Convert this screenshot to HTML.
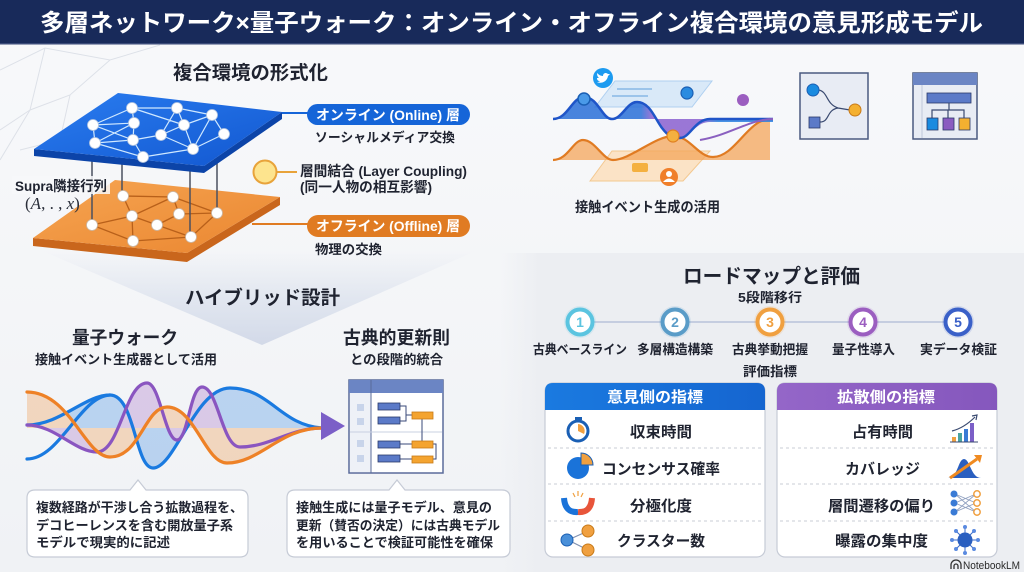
<!DOCTYPE html>
<html><head><meta charset="utf-8"><style>
html,body{margin:0;padding:0;background:#f6f7f9;}
svg{display:block;}
text{font-family:"Liberation Sans","Noto Sans CJK JP",sans-serif;font-weight:700;}
</style></head><body>
<svg width="1024" height="572" viewBox="0 0 1024 572" xmlns="http://www.w3.org/2000/svg">
<defs>
<linearGradient id="bgL" x1="0" y1="0" x2="0" y2="1"><stop offset="0" stop-color="#f8f9fb"/><stop offset="1" stop-color="#f0f2f5"/></linearGradient>
<linearGradient id="bandG" x1="500" y1="0" x2="540" y2="0" gradientUnits="userSpaceOnUse"><stop offset="0" stop-color="#eceef2" stop-opacity="0"/><stop offset="1" stop-color="#eceef2"/></linearGradient>
<linearGradient id="chev" x1="0" y1="0" x2="0" y2="1"><stop offset="0" stop-color="#dfe4ee" stop-opacity="0"/><stop offset="0.5" stop-color="#dde3ee" stop-opacity="0.8"/><stop offset="1" stop-color="#d2d9e8"/></linearGradient>
<linearGradient id="blueTop" x1="0" y1="0" x2="1" y2="1"><stop offset="0" stop-color="#2a7df0"/><stop offset="1" stop-color="#1257d0"/></linearGradient>
<linearGradient id="orTop" x1="0" y1="0" x2="1" y2="1"><stop offset="0" stop-color="#f6a552"/><stop offset="1" stop-color="#ea8630"/></linearGradient>
<linearGradient id="hdrB" x1="0" y1="0" x2="1" y2="0"><stop offset="0" stop-color="#1a7ae0"/><stop offset="1" stop-color="#1565d0"/></linearGradient>
<linearGradient id="hdrP" x1="0" y1="0" x2="1" y2="0"><stop offset="0" stop-color="#9466c8"/><stop offset="1" stop-color="#8557bd"/></linearGradient>
<linearGradient id="wv" x1="0" y1="0" x2="1" y2="0"><stop offset="0" stop-color="#2a6fd8"/><stop offset="0.4" stop-color="#2a6fd8"/><stop offset="0.45" stop-color="#8a60d0"/><stop offset="0.68" stop-color="#8a60d0"/><stop offset="0.75" stop-color="#2a80e0"/><stop offset="1" stop-color="#2a80e0"/></linearGradient>
</defs>

<!-- background -->
<rect x="0" y="0" width="1024" height="572" fill="url(#bgL)"/>
<rect x="500" y="253" width="524" height="319" fill="url(#bandG)"/>
<g stroke="#dde1e8" stroke-width="1" fill="none">
<path d="M0,70 L45,48 L110,60 L160,45 M45,48 L30,110 L0,130 M30,110 L70,95 L110,60 M0,160 L30,110 M70,95 L60,140 L20,150"/>
</g>
<polygon points="40,250 262,345 478,250" fill="url(#chev)"/>

<!-- header -->
<rect x="0" y="0" width="1024" height="44" fill="#182a5a"/>
<rect x="0" y="43" width="1024" height="1.5" fill="#3a4a78"/>
<text x="40" y="31" font-size="24" fill="#ffffff" textLength="943" lengthAdjust="spacingAndGlyphs">多層ネットワーク×量子ウォーク：オンライン・オフライン複合環境の意見形成モデル</text>

<!-- section 1 -->
<text x="173" y="79" font-size="19" fill="#1f2330" textLength="155" lengthAdjust="spacingAndGlyphs">複合環境の形式化</text>

<!-- orange plane -->
<polygon points="33,238 33,246 187,262 280,205 280,197 187,253" fill="#c9661c"/>
<polygon points="33,238 115,180 280,197 187,253" fill="url(#orTop)"/>
<g stroke="#b8601a" stroke-width="1.3" fill="none">
<path d="M123,196L173,197 M123,196L132,216 M173,197L179,214 M173,197L217,213 M132,216L92,225 M132,216L157,225 M132,216L133,241 M92,225L133,241 M157,225L179,214 M157,225L191,237 M133,241L191,237 M179,214L217,213 M191,237L217,213 M173,197L132,216"/>
</g>
<!-- vertical coupling lines -->
<g stroke="#4a5060" stroke-width="1.5">
<line x1="92" y1="160" x2="92" y2="225"/>
<line x1="122" y1="160" x2="122" y2="196"/>
<line x1="190" y1="165" x2="190" y2="237"/>
<line x1="217" y1="160" x2="217" y2="213"/>
</g>
<g fill="#ffffff" stroke="#c9b8a8" stroke-width="0.8">
<circle cx="123" cy="196" r="5.5"/><circle cx="173" cy="197" r="5.5"/><circle cx="132" cy="216" r="5.5"/><circle cx="179" cy="214" r="5.5"/><circle cx="217" cy="213" r="5.5"/><circle cx="92" cy="225" r="5.5"/><circle cx="157" cy="225" r="5.5"/><circle cx="133" cy="241" r="5.5"/><circle cx="191" cy="237" r="5.5"/>
</g>

<!-- blue plane -->
<polygon points="34,149 34,156 204,173 282,119 282,112 204,166" fill="#0c44a8"/>
<polygon points="34,149 118,93 282,112 204,166" fill="url(#blueTop)"/>
<g stroke="#cfe8ff" stroke-width="1.2" fill="none">
<path d="M132,108L177,108 M177,108L212,115 M132,108L93,125 M132,108L134,123 M132,108L184,125 M177,108L184,125 M212,115L184,125 M212,115L224,134 M212,115L193,149 M93,125L95,143 M93,125L134,123 M93,125L133,140 M95,143L133,140 M95,143L134,123 M134,123L133,140 M133,140L161,135 M161,135L184,125 M184,125L193,149 M224,134L193,149 M161,135L193,149 M133,140L143,157 M143,157L193,149 M95,143L143,157 M177,108L161,135"/>
</g>
<g fill="#ffffff" stroke="#b8c8e0" stroke-width="0.8">
<circle cx="132" cy="108" r="5.5"/><circle cx="177" cy="108" r="5.5"/><circle cx="212" cy="115" r="5.5"/><circle cx="93" cy="125" r="5.5"/><circle cx="134" cy="123" r="5.5"/><circle cx="184" cy="125" r="5.5"/><circle cx="224" cy="134" r="5.5"/><circle cx="95" cy="143" r="5.5"/><circle cx="133" cy="140" r="5.5"/><circle cx="161" cy="135" r="5.5"/><circle cx="193" cy="149" r="5.5"/><circle cx="143" cy="157" r="5.5"/>
</g>

<!-- supra labels -->
<rect x="12" y="176" width="98" height="18" fill="#f7f8fa" opacity="0.85"/>
<text x="15" y="191" font-size="14" fill="#1f2330" textLength="92" lengthAdjust="spacingAndGlyphs">Supra隣接行列</text>
<text x="25" y="209" font-size="17" fill="#2a2e3a" style="font-family:'Liberation Serif',serif;font-weight:400">(<tspan font-style="italic">A</tspan>, . , <tspan font-style="italic">x</tspan>)</text>

<!-- online label -->
<line x1="282" y1="113" x2="308" y2="113" stroke="#1565d8" stroke-width="2"/>
<rect x="307" y="104" width="163" height="21" rx="10.5" fill="#1565d8"/>
<text x="316" y="120" font-size="14" fill="#ffffff" textLength="144" lengthAdjust="spacingAndGlyphs">オンライン (Online) 層</text>
<text x="315" y="142" font-size="13" fill="#1f2330" textLength="140" lengthAdjust="spacingAndGlyphs">ソーシャルメディア交換</text>

<!-- coupling -->
<line x1="277" y1="172" x2="297" y2="172" stroke="#e8a33a" stroke-width="2"/>
<circle cx="265" cy="172" r="11.5" fill="#fde48e" stroke="#e8a33a" stroke-width="2"/>
<text x="300" y="176" font-size="14" fill="#1f2330" textLength="167" lengthAdjust="spacingAndGlyphs">層間結合 (Layer Coupling)</text>
<text x="300" y="192" font-size="14" fill="#1f2330" textLength="132" lengthAdjust="spacingAndGlyphs">(同一人物の相互影響)</text>

<!-- offline label -->
<line x1="252" y1="224" x2="308" y2="224" stroke="#e07b22" stroke-width="2"/>
<rect x="307" y="215" width="163" height="22" rx="11" fill="#e07b22"/>
<text x="316" y="231" font-size="14" fill="#ffffff" textLength="144" lengthAdjust="spacingAndGlyphs">オフライン (Offline) 層</text>
<text x="315" y="254" font-size="13" fill="#1f2330" textLength="67" lengthAdjust="spacingAndGlyphs">物理の交換</text>

<!-- hybrid -->
<text x="185" y="304" font-size="19" fill="#1f2330" textLength="155" lengthAdjust="spacingAndGlyphs">ハイブリッド設計</text>
<text x="72" y="344" font-size="18" fill="#1f2330" textLength="106" lengthAdjust="spacingAndGlyphs">量子ウォーク</text>
<text x="35" y="364" font-size="13" fill="#1f2330" textLength="182" lengthAdjust="spacingAndGlyphs">接触イベント生成器として活用</text>
<text x="343" y="344" font-size="18" fill="#1f2330" textLength="107" lengthAdjust="spacingAndGlyphs">古典的更新則</text>
<text x="350" y="364" font-size="13" fill="#1f2330" textLength="93" lengthAdjust="spacingAndGlyphs">との段階的統合</text>

<!-- quantum waves -->
<g opacity="0.28">
<path d="M27,428 L27,425 C60,425 85,395 110,395 C135,395 135,468 153,468 C175,468 195,388 230,388 C270,388 280,425 322,428 Z" fill="#2a80e0"/>
<path d="M27,428 L27,425 C55,425 75,452 97,452 C120,452 125,383 147,383 C160,383 165,440 177,440 C188,440 190,387 202,387 C218,387 222,447 240,447 C270,447 290,428 322,428 Z" fill="#9b5ec0"/>
<path d="M27,428 L27,392 C70,392 85,457 110,457 C140,457 145,407 167,407 C195,407 205,463 227,463 C260,463 280,428 322,428 Z" fill="#f08a30"/>
</g>
<g fill="none" stroke-width="3.2" stroke-linecap="round">
<path d="M27,459 C60,459 80,396 110,395" stroke="#1a7ae0"/>
<path d="M27,425 C60,425 85,395 110,395 C135,395 135,468 153,468 C175,468 195,388 230,388 C270,388 280,425 322,428" stroke="#1a7ae0"/>
<path d="M27,425 C55,425 75,452 97,452 C120,452 125,383 147,383 C160,383 165,440 177,440 C188,440 190,387 202,387 C218,387 222,447 240,447 C270,447 290,428 322,428" stroke="#8a55c0"/>
<path d="M27,392 C70,392 85,457 110,457 C140,457 145,407 167,407 C195,407 205,463 227,463 C260,463 280,428 322,428" stroke="#ee8126"/>
</g>
<polygon points="321,412 345,426 321,440" fill="#7b5fc7"/>

<!-- classical diagram -->
<rect x="349" y="380" width="94" height="93" fill="#ffffff" stroke="#5a6b9a" stroke-width="1.5"/>
<rect x="349" y="380" width="94" height="13" fill="#6b85c4"/>
<rect x="350" y="393" width="21" height="79" fill="#eef1f7"/>
<line x1="371" y1="380" x2="371" y2="473" stroke="#5a6b9a" stroke-width="1"/>
<line x1="350" y1="432" x2="442" y2="432" stroke="#c8d0e2" stroke-width="1"/>
<g fill="#c8d4ea"><rect x="357" y="404" width="7" height="7"/><rect x="357" y="418" width="7" height="7"/><rect x="357" y="440" width="7" height="7"/><rect x="357" y="455" width="7" height="7"/></g>
<g stroke="#3a4a7a" stroke-width="1" fill="none"><path d="M400,406 H406 V421 H400 M406,415 H412 M422,418 V444 H400 M433,444 H436 V459 H433 M412,459 H400"/></g>
<g fill="#5b7ac8" stroke="#2a3a6a" stroke-width="0.8"><rect x="378" y="403" width="22" height="7"/><rect x="378" y="417" width="22" height="7"/><rect x="378" y="441" width="22" height="7"/><rect x="378" y="455" width="22" height="7"/></g>
<g fill="#f4a430" stroke="#c87a18" stroke-width="0.8"><rect x="412" y="412" width="21" height="7"/><rect x="412" y="441" width="21" height="7"/><rect x="412" y="456" width="21" height="7"/></g>

<!-- callouts -->
<path d="M35,490 H130 L138,480 L146,490 H240 Q248,490 248,498 V549 Q248,557 240,557 H35 Q27,557 27,549 V498 Q27,490 35,490 Z" fill="#ffffff" stroke="#c6cbd6" stroke-width="1.2"/>
<text x="36" y="512" font-size="13" fill="#1f2330" textLength="207" lengthAdjust="spacingAndGlyphs">複数経路が干渉し合う拡散過程を、</text>
<text x="36" y="530" font-size="13" fill="#1f2330" textLength="197" lengthAdjust="spacingAndGlyphs">デコヒーレンスを含む開放量子系</text>
<text x="36" y="547" font-size="13" fill="#1f2330" textLength="134" lengthAdjust="spacingAndGlyphs">モデルで現実的に記述</text>

<path d="M295,490 H389 L397,480 L405,490 H502 Q510,490 510,498 V549 Q510,557 502,557 H295 Q287,557 287,549 V498 Q287,490 295,490 Z" fill="#ffffff" stroke="#c6cbd6" stroke-width="1.2"/>
<text x="296" y="512" font-size="13" fill="#1f2330" textLength="196" lengthAdjust="spacingAndGlyphs">接触生成には量子モデル、意見の</text>
<text x="296" y="530" font-size="13" fill="#1f2330" textLength="204" lengthAdjust="spacingAndGlyphs">更新（賛否の決定）には古典モデル</text>
<text x="296" y="547" font-size="13" fill="#1f2330" textLength="197" lengthAdjust="spacingAndGlyphs">を用いることで検証可能性を確保</text>

<!-- top right wave illustration -->
<polygon points="590,181 612,151 710,151 683,181" fill="#fbe3c6" stroke="#f3c890" stroke-width="1"/>
<rect x="632" y="163" width="16" height="9" rx="2" fill="#f4b040"/>
<path d="M553,160 C568,160 573,140 583,140 C595,140 603,160 613,160 C630,160 655,136 673,136 C690,136 698,157 713,157 C735,157 748,119 770,119 L770,160 Z" fill="#f4a55a" opacity="0.75"/>
<path d="M553,160 C568,160 573,140 583,140 C595,140 603,160 613,160 C630,160 655,136 673,136 C690,136 698,157 713,157 C735,157 748,119 770,119" fill="none" stroke="#e07b22" stroke-width="2.2"/>
<polygon points="595,107 615,81 712,81 692,107" fill="#d6e8f8" stroke="#a8ccf0" stroke-width="1" opacity="0.9"/>
<line x1="617" y1="89" x2="652" y2="89" stroke="#9cc4ea" stroke-width="2"/>
<line x1="612" y1="96" x2="648" y2="96" stroke="#9cc4ea" stroke-width="2"/>
<path d="M553,119 C568,119 572,97 584,97 C598,97 602,119 612,119 C622,119 627,102 637,102 C650,102 655,119 662,128 C668,136 672,138 680,138 C690,138 695,122 710,122 L773,122 L773,119 Z" fill="url(#wv)" opacity="0.85"/>
<path d="M553,119 C568,119 572,97 584,97 C598,97 602,119 612,119 C622,119 627,102 637,102 C650,102 655,119 662,128 C668,136 672,138 680,138 C690,138 695,119 710,119 L773,119" fill="none" stroke="#1f55c8" stroke-width="2.5"/>
<path d="M700,140 C730,135 750,119 773,119" fill="none" stroke="#8a60c0" stroke-width="2"/>
<circle cx="603" cy="78" r="10" fill="#1d9bf0"/>
<path d="M597,82 C601,84 607,82 608,76 L610,74 L608,74 C606,72 603,73 603,76 C600,76 598,74 597,73 C597,76 598,77 599,78 C598,78 597,78 597,78 C597,80 598,81 600,81 C599,82 598,82 597,82 Z" fill="#ffffff"/>
<circle cx="584" cy="99" r="6" fill="#4a9ae8" stroke="#1a5fb4" stroke-width="1.5"/>
<circle cx="687" cy="93" r="6" fill="#2a8be0" stroke="#1a5fb4" stroke-width="1.2"/>
<circle cx="743" cy="100" r="6" fill="#9b5ec0"/>
<circle cx="673" cy="136" r="6" fill="#f4b040" stroke="#e08020" stroke-width="1.2"/>
<circle cx="669" cy="177" r="9" fill="#f07f2a"/>
<circle cx="669" cy="174" r="3" fill="#ffffff"/>
<path d="M663,182 Q669,175 675,182 Z" fill="#ffffff"/>
<text x="575" y="212" font-size="14" fill="#1f2330" textLength="145" lengthAdjust="spacingAndGlyphs">接触イベント生成の活用</text>

<!-- icon boxes -->
<rect x="800" y="73" width="68" height="66" fill="#e8ecf4" stroke="#4a5a80" stroke-width="1.5"/>
<path d="M819,90 C828,92 826,104 838,108 L850,110 M838,108 C826,110 830,122 820,122" fill="none" stroke="#3a4a70" stroke-width="1.2"/>
<circle cx="813" cy="90" r="6" fill="#1a8be0" stroke="#1a5fb4" stroke-width="1"/>
<rect x="809" y="117" width="11" height="11" fill="#5b7ac8" stroke="#2a3a6a" stroke-width="0.8"/>
<circle cx="855" cy="110" r="6" fill="#f4b030" stroke="#c87a18" stroke-width="1"/>

<rect x="913" y="73" width="64" height="66" fill="#e8ecf4" stroke="#4a5a80" stroke-width="1.5"/>
<rect x="913" y="73" width="64" height="12" fill="#6b85c4"/>
<line x1="922" y1="85" x2="922" y2="138" stroke="#c0c8da" stroke-width="1"/>
<rect x="927" y="93" width="44" height="10" fill="#5b7ac8" stroke="#2a3a6a" stroke-width="0.8"/>
<path d="M949,103 V110 M932,118 V110 H964 V118 M948,110 V118" fill="none" stroke="#3a4a70" stroke-width="1.2"/>
<rect x="927" y="118" width="11" height="12" fill="#1a8be0" stroke="#2a3a6a" stroke-width="0.8"/>
<rect x="943" y="118" width="11" height="12" fill="#8a5cc0" stroke="#2a3a6a" stroke-width="0.8"/>
<rect x="959" y="118" width="11" height="12" fill="#f4b030" stroke="#2a3a6a" stroke-width="0.8"/>

<!-- roadmap -->
<text x="683" y="283" font-size="20" fill="#1f2330" textLength="177" lengthAdjust="spacingAndGlyphs">ロードマップと評価</text>
<text x="738" y="302" font-size="13" fill="#1f2330" textLength="64" lengthAdjust="spacingAndGlyphs">5段階移行</text>
<line x1="580" y1="322" x2="958" y2="322" stroke="#c5cde0" stroke-width="2"/>
<g font-size="14" text-anchor="middle">
<circle cx="580" cy="322" r="16" fill="#5bc4e0" opacity="0.15"/><circle cx="580" cy="322" r="12.5" fill="#fff" stroke="#5bc4e0" stroke-width="4"/><text x="580" y="327" fill="#5bc4e0">1</text>
<circle cx="675" cy="322" r="16" fill="#5a9cc8" opacity="0.15"/><circle cx="675" cy="322" r="12.5" fill="#fff" stroke="#5a9cc8" stroke-width="4"/><text x="675" y="327" fill="#5a9cc8">2</text>
<circle cx="770" cy="322" r="16" fill="#f0a040" opacity="0.15"/><circle cx="770" cy="322" r="12.5" fill="#fff" stroke="#f0a040" stroke-width="4"/><text x="770" y="327" fill="#f0a040">3</text>
<circle cx="863" cy="322" r="16" fill="#9b5ec0" opacity="0.15"/><circle cx="863" cy="322" r="12.5" fill="#fff" stroke="#9b5ec0" stroke-width="4"/><text x="863" y="327" fill="#9b5ec0">4</text>
<circle cx="958" cy="322" r="16" fill="#3a60c8" opacity="0.15"/><circle cx="958" cy="322" r="12.5" fill="#fff" stroke="#3a60c8" stroke-width="4"/><text x="958" y="327" fill="#3a60c8">5</text>
</g>
<g font-size="13" fill="#1f2330">
<text x="533" y="354" textLength="94" lengthAdjust="spacingAndGlyphs">古典ベースライン</text>
<text x="637" y="354" textLength="76" lengthAdjust="spacingAndGlyphs">多層構造構築</text>
<text x="732" y="354" textLength="76" lengthAdjust="spacingAndGlyphs">古典挙動把握</text>
<text x="832" y="354" textLength="63" lengthAdjust="spacingAndGlyphs">量子性導入</text>
<text x="920" y="354" textLength="77" lengthAdjust="spacingAndGlyphs">実データ検証</text>
<text x="743" y="376" textLength="54" lengthAdjust="spacingAndGlyphs">評価指標</text>
</g>

<!-- metric panel left -->
<rect x="545" y="383" width="220" height="174" rx="8" fill="#ffffff" stroke="#c6cbd6" stroke-width="1.2"/>
<path d="M553,383 H757 Q765,383 765,391 V410 H545 V391 Q545,383 553,383 Z" fill="url(#hdrB)"/>
<text x="607" y="402" font-size="15" fill="#ffffff" textLength="96" lengthAdjust="spacingAndGlyphs">意見側の指標</text>
<g stroke="#c8ccd6" stroke-width="1" stroke-dasharray="3,3"><line x1="548" y1="448" x2="762" y2="448"/><line x1="548" y1="484" x2="762" y2="484"/><line x1="548" y1="521" x2="762" y2="521"/></g>
<g font-size="15" fill="#1f2330">
<text x="630" y="437" textLength="62" lengthAdjust="spacingAndGlyphs">収束時間</text>
<text x="602" y="474" textLength="118" lengthAdjust="spacingAndGlyphs">コンセンサス確率</text>
<text x="630" y="511" textLength="62" lengthAdjust="spacingAndGlyphs">分極化度</text>
<text x="617" y="546" textLength="88" lengthAdjust="spacingAndGlyphs">クラスター数</text>
</g>
<!-- left icons -->
<rect x="575" y="417" width="7" height="3" fill="#1a5fb4"/>
<circle cx="578" cy="431" r="10" fill="#ffffff" stroke="#1a5fb4" stroke-width="3"/>
<path d="M578,431 L578,424 A7,7 0 0 1 584,434 Z" fill="#f0a040"/>
<circle cx="578" cy="468" r="11" fill="#1a73d9"/>
<path d="M581,465 L581,453 A12,12 0 0 1 593,465 Z" fill="#f0a040" stroke="#1a5fb4" stroke-width="1"/>
<path d="M564,498 Q565,513 578,512" fill="none" stroke="#1a73d9" stroke-width="6"/>
<path d="M578,512 Q591,513 592,498" fill="none" stroke="#e8553a" stroke-width="6"/>
<g stroke="#f0a040" stroke-width="1.2"><line x1="578" y1="491" x2="578" y2="496"/><line x1="573" y1="493" x2="575" y2="497"/><line x1="583" y1="493" x2="581" y2="497"/></g>
<g stroke="#8090b0" stroke-width="1.2"><line x1="568" y1="540" x2="588" y2="531"/><line x1="568" y1="540" x2="588" y2="550"/></g>
<circle cx="567" cy="540" r="6" fill="#4a90d9" stroke="#1a5fb4" stroke-width="1"/>
<circle cx="588" cy="531" r="6" fill="#f0a040" stroke="#c87a18" stroke-width="1"/>
<circle cx="588" cy="550" r="6" fill="#f0a040" stroke="#c87a18" stroke-width="1"/>

<!-- metric panel right -->
<rect x="777" y="383" width="220" height="174" rx="8" fill="#ffffff" stroke="#c6cbd6" stroke-width="1.2"/>
<path d="M785,383 H989 Q997,383 997,391 V410 H777 V391 Q777,383 785,383 Z" fill="url(#hdrP)"/>
<text x="837" y="402" font-size="15" fill="#ffffff" textLength="98" lengthAdjust="spacingAndGlyphs">拡散側の指標</text>
<g stroke="#c8ccd6" stroke-width="1" stroke-dasharray="3,3"><line x1="780" y1="448" x2="994" y2="448"/><line x1="780" y1="484" x2="994" y2="484"/><line x1="780" y1="521" x2="994" y2="521"/></g>
<g font-size="15" fill="#1f2330">
<text x="852" y="437" textLength="61" lengthAdjust="spacingAndGlyphs">占有時間</text>
<text x="845" y="474" textLength="75" lengthAdjust="spacingAndGlyphs">カバレッジ</text>
<text x="828" y="511" textLength="107" lengthAdjust="spacingAndGlyphs">層間遷移の偏り</text>
<text x="835" y="546" textLength="93" lengthAdjust="spacingAndGlyphs">曝露の集中度</text>
</g>
<!-- right icons -->
<rect x="952" y="437" width="4" height="5" fill="#f0a040"/>
<rect x="958" y="433" width="4" height="9" fill="#4aa3a0"/>
<rect x="964" y="429" width="4" height="13" fill="#3a7bd5"/>
<rect x="970" y="423" width="4" height="19" fill="#7b5fc7"/>
<line x1="950" y1="442" x2="978" y2="442" stroke="#3a4a70" stroke-width="1"/>
<path d="M952,431 Q964,428 975,417" fill="none" stroke="#3a4a70" stroke-width="1.2"/>
<path d="M972,416 L977,415 L976,420" fill="none" stroke="#3a4a70" stroke-width="1.2"/>
<path d="M948,478 C958,478 958,459 964,459 C970,459 971,478 981,478 Z" fill="#2a5fc0"/>
<line x1="950" y1="478" x2="977" y2="459" stroke="#f08a20" stroke-width="3"/>
<polygon points="974,455 982,455 980,463" fill="#f08a20"/>
<g stroke="#90a0c0" stroke-width="0.9"><path d="M955,494 L976,503 M955,494 L976,512 M955,503 L976,494 M955,503 L976,512 M955,512 L976,494 M955,512 L976,503"/></g>
<g fill="#3a7bd5"><circle cx="954" cy="494" r="3.5"/><circle cx="954" cy="503" r="3.5"/><circle cx="954" cy="512" r="3.5"/></g>
<g fill="#fff" stroke="#f0a040" stroke-width="1.5"><circle cx="977" cy="494" r="3.2"/><circle cx="977" cy="503" r="3.2"/><circle cx="977" cy="512" r="3.2"/></g>
<g stroke="#3a6ac8" stroke-width="1"><path d="M965,527 V553 M952,540 H978 M956,531 L974,549 M974,531 L956,549"/></g>
<circle cx="965" cy="540" r="7.5" fill="#2a5fc0"/>
<g fill="#5a8ae0"><circle cx="965" cy="527" r="2"/><circle cx="965" cy="553" r="2"/><circle cx="952" cy="540" r="2"/><circle cx="978" cy="540" r="2"/><circle cx="956" cy="531" r="2"/><circle cx="974" cy="549" r="2"/><circle cx="974" cy="531" r="2"/><circle cx="956" cy="549" r="2"/></g>

<!-- NotebookLM -->
<path d="M951,569 V565 A5,5 0 0 1 961,565 V569 M954,569 V566 A2,2 0 0 1 958,566 V569" fill="none" stroke="#333" stroke-width="1.3"/>
<text x="963" y="569" font-size="11" fill="#2a2a2a" style="font-weight:400" textLength="57" lengthAdjust="spacingAndGlyphs">NotebookLM</text>
</svg>
</body></html>
